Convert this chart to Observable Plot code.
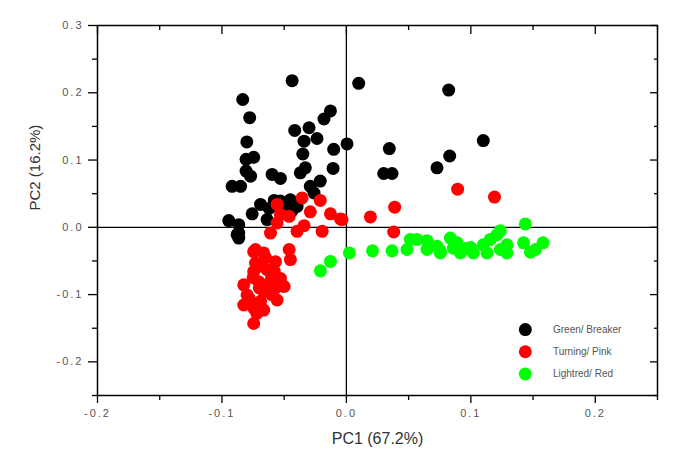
<!DOCTYPE html>
<html><head><meta charset="utf-8">
<script src="https://cdn.jsdelivr.net/npm/d3@7"></script>
<script src="https://cdn.jsdelivr.net/npm/@observablehq/plot@0.6"></script>
<style>
body{margin:0;background:#fff;}
#chart svg{display:block;}
</style></head><body><div id="chart"></div>
<script>
// ---- data ----
const xTicks = [-0.2, -0.1, 0.0, 0.1, 0.2];
const xMinor = [-0.15, -0.05, 0.05, 0.15, 0.25];
const yTicks = [-0.2, -0.1, 0.0, 0.1, 0.2, 0.3];
const yMinor = [-0.25, -0.15, -0.05, 0.05, 0.15, 0.25];
const xTitle = "PC1 (67.2%)";
const yTitle = "PC2 (16.2%)";
const groups = ["Green/ Breaker", "Turning/ Pink", "Lightred/ Red"];
const groupColors = ["#000000", "#ff0000", "#00ff00"];

const gbX = [-0.0436, 0.0099, -0.0833, -0.0777, -0.0128, -0.018, -0.0415, -0.030, -0.0236, -0.034, -0.080, 0.0005, 0.0345, -0.0102, -0.035, -0.0745, -0.0806, -0.0806, -0.077, -0.0918, -0.085, -0.0597, -0.053, -0.033, -0.037, -0.0107, -0.021, -0.029, -0.026, 0.030, 0.0367, -0.069, -0.0757, -0.045, -0.0396, -0.053, -0.0637, -0.0945, -0.0865, -0.0878, -0.0865, -0.0865, 0.0822, 0.110, 0.083, 0.0728, -0.062, -0.050, -0.058, -0.044];
const gbY = [0.218, 0.214, 0.19, 0.163, 0.173, 0.161, 0.144, 0.148, 0.132, 0.128, 0.127, 0.124, 0.117, 0.116, 0.109, 0.104, 0.101, 0.0836, 0.076, 0.061, 0.061, 0.0786, 0.0727, 0.0885, 0.081, 0.0876, 0.0687, 0.061, 0.051, 0.080, 0.080, 0.034, 0.020, 0.041, 0.031, 0.039, 0.0115, 0.010, 0.004, -0.011, -0.0085, -0.016, 0.204, 0.129, 0.106, 0.0885, 0.028, 0.035, 0.040, 0.024];

const tpX = [0.0894, 0.119, 0.0388, 0.0193, -0.0035, 0.038, -0.0356, -0.021, -0.0557, -0.029, -0.053, -0.046, -0.0128, -0.0048, -0.0557, -0.034, -0.0396, -0.0195, -0.061, -0.073, -0.0745, -0.0665, -0.046, -0.045, -0.057, -0.073, -0.0745, -0.0637, -0.06, -0.053, -0.0825, -0.0704, -0.050, -0.0798, -0.0664, -0.057, -0.0825, -0.0745, -0.0664, -0.0557, -0.069, -0.0745, -0.078, -0.065, -0.070, -0.060, -0.075, -0.068, -0.062, -0.058, -0.072];
const tpY = [0.0567, 0.045, 0.030, 0.0154, 0.0115, -0.007, 0.0437, 0.040, 0.034, 0.023, 0.019, 0.0164, 0.020, 0.0124, 0.0064, 0.0025, -0.006, -0.006, -0.0085, -0.033, -0.036, -0.038, -0.033, -0.048, -0.051, -0.053, -0.066, -0.063, -0.073, -0.076, -0.0855, -0.081, -0.088, -0.1005, -0.0955, -0.0905, -0.1155, -0.12, -0.123, -0.108, -0.110, -0.143, -0.106, -0.045, -0.090, -0.100, -0.075, -0.058, -0.083, -0.065, -0.128];

const lrX = [-0.0209, -0.0128, 0.0024, 0.021, 0.0367, 0.0514, 0.0487, 0.0567, 0.0648, 0.0728, 0.0755, 0.0835, 0.089, 0.097, 0.0916, 0.102, 0.110, 0.1157, 0.121, 0.1237, 0.1237, 0.113, 0.129, 0.1438, 0.1424, 0.148, 0.158, 0.152, 0.100, 0.0755, 0.0648, 0.129, 0.086];
const lrY = [-0.0647, -0.0507, -0.038, -0.035, -0.035, -0.018, -0.033, -0.018, -0.020, -0.028, -0.038, -0.016, -0.023, -0.031, -0.038, -0.038, -0.026, -0.018, -0.011, -0.005, -0.033, -0.038, -0.038, 0.005, -0.023, -0.037, -0.023, -0.033, -0.030, -0.035, -0.033, -0.026, -0.031];

// ---- build ----
const series = [[gbX, gbY], [tpX, tpY], [lrX, lrY]].map(([xs, ys]) => xs.map((x, i) => ({x, y: ys[i]})));
const fmt = d => d.toFixed(1);
const blank = () => "";

const dotMarks = series.map((pts, k) => Plot.dot(pts, {x: "x", y: "y", r: 6.5, fill: groupColors[k], stroke: "none"}));
const legendMarks = groups.flatMap((g, k) => [
  Plot.dot([g], {x: () => 0.1438, y: () => -0.152 - k * 0.033, r: 6.5, fill: groupColors[k]}),
  Plot.text([g], {x: () => 0.166, y: () => -0.152 - k * 0.033, text: d => d, textAnchor: "start", fontSize: 10, fill: "#555", ariaLabel: "legend-text"})
]);

const plot = Plot.plot({
  width: 685, height: 473,
  marginLeft: 97, marginRight: 28, marginTop: 25, marginBottom: 78,
  style: {fontFamily: "'Liberation Sans', Arial, sans-serif", fontSize: "11px", background: "#fff", color: "#000"},
  x: {domain: [-0.2, 0.25]},
  y: {domain: [-0.25, 0.3]},
  marks: [
    Plot.ruleY([0], {stroke: "#000", strokeWidth: 1.3}),
    Plot.ruleX([0], {stroke: "#000", strokeWidth: 1.3}),
    ...dotMarks,
    ...legendMarks,
    Plot.frame({stroke: "#000", strokeWidth: 1.5}),
    Plot.axisX(xTicks, {anchor: "bottom", tickSize: 8, tickPadding: 6, tickFormat: fmt, fill: "#555", stroke: "#000", strokeWidth: 1.3, label: null}),
    Plot.axisX(xMinor, {anchor: "bottom", tickSize: 5, tickFormat: blank, stroke: "#000", strokeWidth: 1.3, label: null}),
    Plot.axisY(yTicks, {anchor: "left", tickSize: 9, tickPadding: 5, tickFormat: fmt, fill: "#555", stroke: "#000", strokeWidth: 1.3, label: null}),
    Plot.axisY(yMinor, {anchor: "left", tickSize: 5, tickFormat: blank, stroke: "#000", strokeWidth: 1.3, label: null}),
    Plot.axisX(xTicks, {anchor: "top", tickSize: -8, tickFormat: blank, stroke: "#000", strokeWidth: 1.3, label: null}),
    Plot.axisX(xMinor, {anchor: "top", tickSize: -4, tickFormat: blank, stroke: "#000", strokeWidth: 1.3, label: null}),
    Plot.axisY(yTicks, {anchor: "right", tickSize: -8, tickFormat: blank, stroke: "#000", strokeWidth: 1.3, label: null}),
    Plot.axisY(yMinor, {anchor: "right", tickSize: -4, tickFormat: blank, stroke: "#000", strokeWidth: 1.3, label: null}),
    Plot.text([xTitle], {frameAnchor: "bottom", dy: 48, fontSize: 16, fill: "#333", ariaLabel: "x-title"}),
    Plot.text([yTitle], {frameAnchor: "left", dx: -62, rotate: -90, fontSize: 15, fill: "#333", ariaLabel: "y-title"})
  ]
});
document.getElementById("chart").appendChild(plot);
const svg = d3.select(plot);
svg.selectAll('g[aria-label$="tick label"] text').style("letter-spacing", "2px");
svg.selectAll('g[aria-label="x-title"] text').style("letter-spacing", "1.5px");
svg.selectAll('g[aria-label="legend-text"] text').style("letter-spacing", "1.7px");
</script></body></html>
